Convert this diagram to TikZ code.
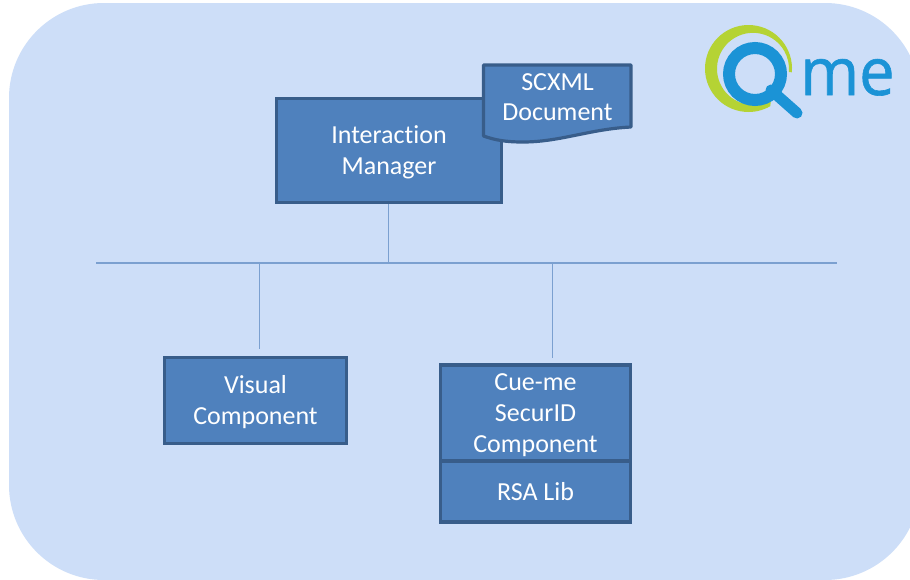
\documentclass[tikz,border=0pt]{standalone}
\usepackage{fontspec}
\setmainfont{Carlito}[Ligatures=NoCommon]
\newfontfamily\logofont{Open Sans}[FakeStretch=0.96,FakeBold=0.9]
\definecolor{bgblue}{HTML}{CDDEF8}
\definecolor{boxfill}{HTML}{4F81BD}
\definecolor{boxline}{HTML}{385D8A}
\definecolor{wirecol}{HTML}{7BA0D0}
\definecolor{logoblue}{HTML}{1B93D6}
\definecolor{logogreen}{HTML}{B5D334}
\tikzset{
  compbox/.style={draw=boxline,fill=boxfill,line width=3.2pt,inner sep=0pt},
  boxtext/.style={text=white,align=center,inner sep=0pt,font=\fontsize{26}{31}\selectfont},
  doctext/.style={text=white,align=center,inner sep=0pt,font=\fontsize{26}{30}\selectfont},
  wire/.style={draw=wirecol,line width=1.4pt}
}
\begin{document}
\begin{tikzpicture}[x=1pt,y=-1pt]
\useasboundingbox (0,0) rectangle (910,579);
\fill[white] (0,0) rectangle (910,579);
\begin{scope}
\clip (0,0) rectangle (910,579);
\fill[bgblue,rounded corners=95pt] (9,3) rectangle (920,580);
\end{scope}
% connectors
\coordinate (busL) at (96,263);
\coordinate (busR) at (837,263);
\coordinate (busA) at (388.5,263);
\coordinate (busV) at (259.5,263);
\coordinate (busC) at (552.5,263);
\coordinate (endV) at (259.5,349);
\coordinate (endC) at (552.5,358);
\draw[wire] (busL) -- (busR);
\draw[wire] (busV) -- (endV);
\draw[wire] (busC) -- (endC);
\node[compbox,minimum width=225pt,minimum height=104pt] (im) at (389,150.5) {};
\node[boxtext] (imtext) at ([yshift=-1.5pt]im.center) {Interaction\\Manager};
\node[compbox,minimum width=182pt,minimum height=86pt] (vis) at (255.5,400.5) {};
\node[boxtext] (vistext) at ([yshift=-1.5pt]vis.center) {Visual\\Component};
\node[compbox,minimum width=190pt,minimum height=96pt] (cue) at (535.5,413) {};
\node[boxtext] (cuetext) at ([yshift=-2pt]cue.center) {Cue-me\\SecurID\\Component};
\node[compbox,minimum width=190pt,minimum height=61pt] (rsa) at (535.5,491.5) {};
\node[boxtext] (rsatext) at (rsa.center) {RSA Lib};
\draw[wire] (im.south -| busA) -- (busA);
% document shape
\draw[draw=boxline,fill=boxfill,line width=3.2pt,line join=round]
  (483.5,65) -- (631,65) -- (631,127)
  .. controls (590,129) and (560,142) .. (523,142)
  .. controls (505,142) and (495,140) .. (483.5,136) -- cycle;
\node[doctext] (doc) at (557.5,97) {SCXML\\Document};
% logo
\fill[logogreen] (748.5,68.5) ++(5:43.5) arc (5:-300:43.5)
  -- (771,100) arc (-300:5:36) -- cycle;
\draw[logoblue,line width=12pt] (755,74) circle (26);
\draw[logoblue,line width=11pt,line cap=round] (771,90) -- (797,113);
\node[text=logoblue,inner sep=0pt,anchor=base west,font=\logofont\fontsize{66}{66}\selectfont] (me) at (800,95) {me};
\end{tikzpicture}
\end{document}
